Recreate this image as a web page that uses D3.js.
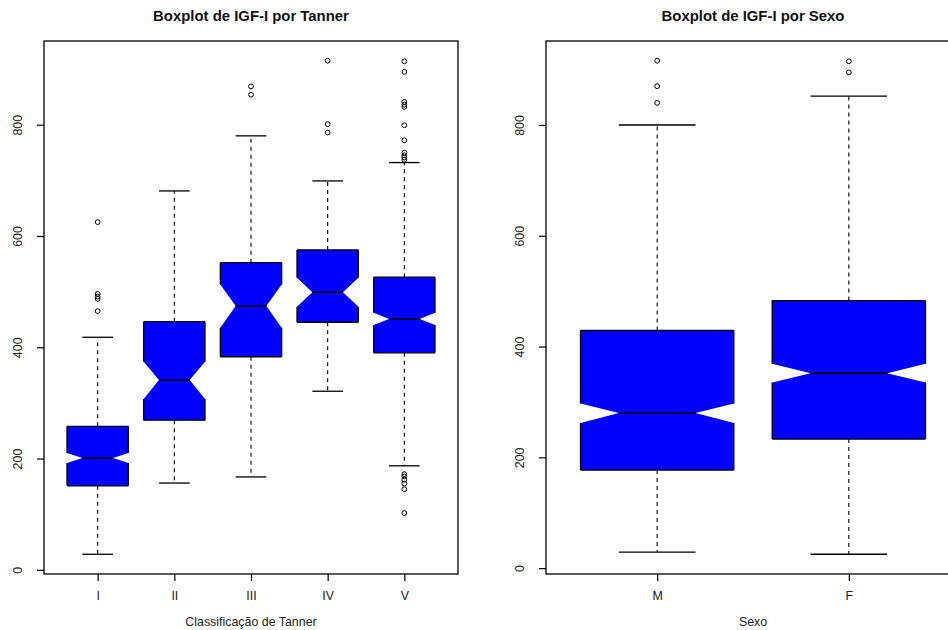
<!DOCTYPE html>
<html>
<head>
<meta charset="utf-8">
<script src="https://cdn.jsdelivr.net/npm/d3@7"></script>
<style>
  body { margin: 0; background: #fff; }
  svg text { font-family: "Liberation Sans", Arial, Helvetica, sans-serif; }
</style>
</head>
<body>
<svg id="chart" width="948" height="630"></svg>
<script>
// IGF-I by Tanner stage: five-number summaries, notch bounds and outliers
const tannerLevels       = ["I", "II", "III", "IV", "V"];
const tannerLowerWhisker = [28, 156, 167, 321, 187];
const tannerQ1           = [151, 269, 383, 445, 390];
const tannerMedian       = [201, 341, 474, 499, 451];
const tannerQ3           = [258, 446, 552, 575, 526];
const tannerUpperWhisker = [418, 681, 780, 699, 732];
const tannerNotchLow     = [192, 307, 435, 473, 440];
const tannerNotchHigh    = [210, 374, 513, 525, 462];
const tannerOutliers = [
  [465, 487, 491, 496, 625],
  [],
  [854, 869],
  [786, 801, 915],
  [102, 145, 155, 162, 168, 172, 737, 741, 745, 750, 772, 799, 832, 836, 841, 895, 914]
];

// IGF-I by sex
const sexLevels       = ["M", "F"];
const sexLowerWhisker = [29, 25];
const sexQ1           = [177, 233];
const sexMedian       = [280, 352];
const sexQ3           = [429, 483];
const sexUpperWhisker = [800, 852];
const sexNotchLow     = [262, 335];
const sexNotchHigh    = [297, 369];
const sexOutliers     = [[840, 870, 916], [895, 915]];

const yTickValues = [0, 200, 400, 600, 800];

const svg = d3.select("#chart");
const boxFill = "#0000ff";
const textColor = "#222";

function drawPanel(cfg) {
  const { left, right, top, bottom, levels, lw, q1, med, q3, uw, nlo, nhi, outliers, title, xTitle } = cfg;
  const n = levels.length;

  // axis limits extended by 4% on each side
  const allVals = lw.concat(uw, outliers.flat());
  const lo = d3.min(allVals), hi = d3.max(allVals);
  const pad = 0.04 * (hi - lo);
  const y = d3.scaleLinear().domain([lo - pad, hi + pad]).range([bottom, top]);
  const x = d3.scaleLinear().domain([0.5 - 0.04 * n, n + 0.5 + 0.04 * n]).range([left, right]);

  const g = svg.append("g");
  const halfW = 0.4, notchFrac = 0.5, stapleHalf = 0.2;
  const seg = (x1, y1, x2, y2, w) => g.append("line")
    .attr("x1", x(x1)).attr("y1", y(y1)).attr("x2", x(x2)).attr("y2", y(y2))
    .attr("stroke", "#000").attr("stroke-width", w || 1.3);

  levels.forEach((lvl, i) => {
    const c = i + 1;
    // whiskers
    seg(c, q1[i], c, lw[i], 1.1).attr("stroke-dasharray", "4,4");
    seg(c, q3[i], c, uw[i], 1.1).attr("stroke-dasharray", "4,4");
    // staples
    seg(c - stapleHalf, lw[i], c + stapleHalf, lw[i]);
    seg(c - stapleHalf, uw[i], c + stapleHalf, uw[i]);
    // notched box fill
    const pts = [
      [c - halfW, q1[i]], [c + halfW, q1[i]], [c + halfW, nlo[i]], [c + halfW * notchFrac, med[i]],
      [c + halfW, nhi[i]], [c + halfW, q3[i]], [c - halfW, q3[i]], [c - halfW, nhi[i]],
      [c - halfW * notchFrac, med[i]], [c - halfW, nlo[i]]
    ];
    g.append("polygon")
      .attr("points", pts.map(p => [x(p[0]), y(p[1])].join(",")).join(" "))
      .attr("fill", boxFill).attr("stroke", "none");
    // box outline: hinges and the straight sides outside the notch
    seg(c - halfW, q1[i], c + halfW, q1[i]);
    seg(c - halfW, q3[i], c + halfW, q3[i]);
    seg(c - halfW, q1[i], c - halfW, nlo[i]);
    seg(c + halfW, q1[i], c + halfW, nlo[i]);
    seg(c - halfW, q3[i], c - halfW, nhi[i]);
    seg(c + halfW, q3[i], c + halfW, nhi[i]);
    // median
    seg(c - halfW * notchFrac, med[i], c + halfW * notchFrac, med[i], 1.6);
    // outliers
    g.selectAll(null).data(outliers[i]).enter().append("circle")
      .attr("cx", x(c)).attr("cy", d => y(d)).attr("r", 2.4)
      .attr("fill", "none").attr("stroke", "#000").attr("stroke-width", 1);
  });

  // frame
  g.append("rect")
    .attr("x", left).attr("y", top).attr("width", right - left).attr("height", bottom - top)
    .attr("fill", "none").attr("stroke", "#000").attr("stroke-width", 1.3);

  // y axis
  const ya = g.append("g").attr("transform", `translate(${left},0)`)
    .call(d3.axisLeft(y).tickValues(yTickValues).tickSize(7).tickFormat(d3.format("d")));
  ya.select(".domain").remove();
  ya.selectAll(".tick line").attr("stroke", "#000").attr("stroke-width", 1.2);
  ya.selectAll(".tick text")
    .attr("transform", "rotate(-90)")
    .attr("x", 0).attr("y", -22).attr("dy", 0)
    .attr("text-anchor", "middle")
    .attr("font-size", 12.4).attr("fill", textColor)
    .style("font-family", '"Liberation Sans", Arial, sans-serif');

  // x axis
  const xa = g.append("g").attr("transform", `translate(0,${bottom})`)
    .call(d3.axisBottom(x).tickValues(d3.range(1, n + 1)).tickSize(7).tickFormat(d => levels[d - 1]));
  xa.select(".domain").remove();
  xa.selectAll(".tick line").attr("stroke", "#000").attr("stroke-width", 1.2);
  xa.selectAll(".tick text")
    .attr("y", 26).attr("dy", 0)
    .attr("font-size", 12.4).attr("fill", textColor)
    .style("font-family", '"Liberation Sans", Arial, sans-serif');

  const cx = (left + right) / 2;
  svg.append("text").attr("x", cx).attr("y", 21).attr("text-anchor", "middle")
    .attr("font-size", 14.9).attr("font-weight", "bold").attr("fill", "#111").text(title);
  svg.append("text").attr("x", cx).attr("y", 626).attr("text-anchor", "middle")
    .attr("font-size", 12.4).attr("fill", textColor).text(xTitle);
}

drawPanel({
  left: 44, right: 458, top: 41, bottom: 574,
  levels: tannerLevels, lw: tannerLowerWhisker, q1: tannerQ1, med: tannerMedian, q3: tannerQ3,
  uw: tannerUpperWhisker, nlo: tannerNotchLow, nhi: tannerNotchHigh, outliers: tannerOutliers,
  title: "Boxplot de IGF-I por Tanner", xTitle: "Classificação de Tanner"
});

drawPanel({
  left: 546, right: 960, top: 41, bottom: 574,
  levels: sexLevels, lw: sexLowerWhisker, q1: sexQ1, med: sexMedian, q3: sexQ3,
  uw: sexUpperWhisker, nlo: sexNotchLow, nhi: sexNotchHigh, outliers: sexOutliers,
  title: "Boxplot de IGF-I por Sexo", xTitle: "Sexo"
});
</script>
</body>
</html>
